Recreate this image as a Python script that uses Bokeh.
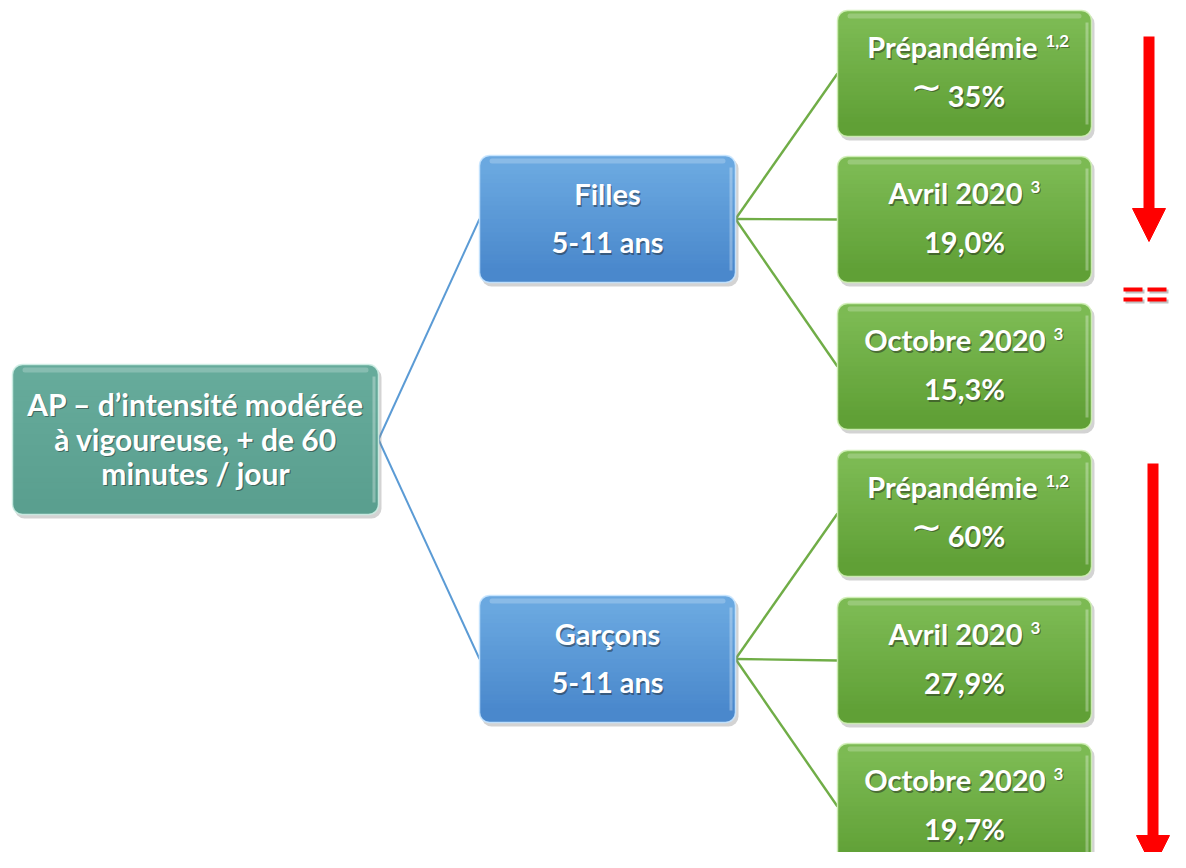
from bokeh.plotting import figure
from bokeh.models import Range1d, ColumnDataSource, Arrow, NormalHead
from bokeh.core.properties import value
from bokeh.embed import file_html
from bokeh.resources import INLINE

# ---------------- data ----------------
root_lines = ["AP – d’intensité modérée", "à vigoureuse, + de 60", "minutes / jour"]
groups = ["Filles", "Garçons"]
age_band = "5-11 ans"
periods = ["Prépandémie", "Avril 2020", "Octobre 2020"]
period_refs = ["1,2", "3", "3"]
approx_flags = [True, False, False]
filles_values = ["35%", "19,0%", "15,3%"]
garcons_values = ["60%", "27,9%", "19,7%"]
group_values = [filles_values, garcons_values]

# ---------------- layout ----------------
W, H = 1170, 852
FONT = "Lato"
p = figure(width=W, height=H, x_range=Range1d(0, W), y_range=Range1d(H, 0),
           output_backend="svg", toolbar_location=None,
           x_axis_location=None, y_axis_location=None, min_border=0,
           outline_line_color=None)
p.grid.visible = False
p.background_fill_color = "white"
p.border_fill_color = "white"


def hex2rgb(h):
    h = h.lstrip("#")
    return tuple(int(h[i:i + 2], 16) for i in (0, 2, 4))


def rgb2hex(c):
    return "#%02x%02x%02x" % tuple(max(0, min(255, int(round(v)))) for v in c)


def draw_box(l, r, t, b, top_col, bot_col, edge_col, R=10):
    # shadow
    p.quad(left=[l + 2], right=[r + 3], top=[t + 3], bottom=[b + 4],
           fill_color="#808080", fill_alpha=0.35, line_color=None, border_radius=R)
    # base in top colour
    p.quad(left=[l], right=[r], top=[t], bottom=[b], fill_color=top_col,
           line_color=None, border_radius=R)
    # bottom cap in bottom colour
    p.quad(left=[l], right=[r], top=[b - 2 * R], bottom=[b], fill_color=bot_col,
           line_color=None, border_radius=R)
    # gradient strips
    n = 24
    c0, c1 = hex2rgb(top_col), hex2rgb(bot_col)
    y0, y1 = t + R, b - R
    ls, rs, ts, bs, cs = [], [], [], [], []
    for i in range(n):
        f = i / (n - 1)
        ya = y0 + (y1 - y0) * i / n
        yb = y0 + (y1 - y0) * (i + 1) / n + 0.6
        ls.append(l); rs.append(r); ts.append(ya); bs.append(yb)
        cs.append(rgb2hex([c0[k] + (c1[k] - c0[k]) * f for k in range(3)]))
    p.quad(left=ls, right=rs, top=ts, bottom=bs, fill_color=cs, line_color=None)
    # glossy edge
    p.quad(left=[l], right=[r], top=[t], bottom=[b], fill_color=None,
           line_color=edge_col, line_width=1.5, line_alpha=0.9, border_radius=R)
    # top highlight
    p.quad(left=[l + 10], right=[r - 10], top=[t + 3], bottom=[t + 8],
           fill_color="white", fill_alpha=0.22, line_color=None, border_radius=3)
    # right highlight
    p.quad(left=[r - 6], right=[r - 3], top=[t + 12], bottom=[b - 12],
           fill_color="white", fill_alpha=0.30, line_color=None)


def shadow_text(xs, ys, texts, size, align="center", baseline="alphabetic",
                font=FONT, style="bold", color="white"):
    src = ColumnDataSource(dict(x=[x + 1.2 for x in xs], y=[y + 1.6 for y in ys], t=texts))
    p.text(x="x", y="y", text="t", source=src, text_color="#1a1a1a", text_alpha=0.45,
           text_font=value(font), text_font_style=style, text_font_size=size,
           text_align=align, text_baseline=baseline)
    src2 = ColumnDataSource(dict(x=xs, y=ys, t=texts))
    p.text(x="x", y="y", text="t", source=src2, text_color=color,
           text_font=value(font), text_font_style=style, text_font_size=size,
           text_align=align, text_baseline=baseline)


# positions
root_box = (12, 378, 364, 514)
grp_l, grp_r = 479, 735
grp_tops = [155, 595]
grp_h = 127
leaf_l, leaf_r = 837, 1091
leaf_h = 126
leaf_tops = [[10, 156, 303], [450, 597, 743]]

BLUE = "#5b9bd5"
GREEN = "#70ad47"

# connectors
rx = root_box[1]
ry = (root_box[2] + root_box[3]) / 2
for gi in range(len(groups)):
    gy = grp_tops[gi] + grp_h / 2
    p.line([rx, grp_l], [ry, gy], line_color=BLUE, line_width=2)
    for li in range(len(periods)):
        ly = leaf_tops[gi][li] + leaf_h / 2
        p.line([grp_r, leaf_l], [gy, ly], line_color=GREEN, line_width=2.4)

# root box
l, r, t, b = root_box
draw_box(l, r, t, b, "#66ab9b", "#5a9f8f", "#cfeee6")
shadow_text([(l + r) / 2] * 3, [403, 438, 472], root_lines, "30px")

# group boxes
for gi, g in enumerate(groups):
    t = grp_tops[gi]
    draw_box(grp_l, grp_r, t, t + grp_h, "#6aa8e0", "#4a88cc", "#c8e6ff")
    xc = (grp_l + grp_r) / 2
    shadow_text([xc, xc], [t + 38, t + 86], [g, age_band], "29px")

# leaf boxes
word_right = [1037, 1022, 1045]
for gi in range(len(groups)):
    for li, per in enumerate(periods):
        t = leaf_tops[gi][li]
        draw_box(leaf_l, leaf_r, t, t + leaf_h, "#7cba53", "#60a036", "#d2f0b8")
        xc = (leaf_l + leaf_r) / 2
        xr = word_right[li]
        shadow_text([xr], [t + 36], [per], "29px", align="right")
        shadow_text([xr + 8], [t + 30], [period_refs[li]], "17px", align="left")
        val = group_values[gi][li]
        if approx_flags[li]:
            shadow_text([xc + 12], [t + 85], [val], "29px")
            shadow_text([926], [t + 76], ["∼"], "38px", font="DejaVu Sans",
                        style="normal", baseline="middle")
        else:
            shadow_text([xc], [t + 85], [val], "29px")

# red arrows
arrows = [(1148.5, 36, 241), (1152.5, 463, 868)]
for ax, ys, ye in arrows:
    p.add_layout(Arrow(end=NormalHead(size=33, fill_color="red", line_color="red"),
                       x_start=ax, y_start=ys, x_end=ax, y_end=ye,
                       line_color="red", line_width=11))

# "===" sign
for yy in [289, 299]:
    p.line([1125, 1190], [yy + 2, yy + 2], line_color="#999999", line_alpha=0.6,
           line_width=4, line_dash="19 5")
    p.line([1123, 1188], [yy, yy], line_color="red", line_width=4, line_dash="19 5")

open("out.html", "w").write(file_html(p, INLINE))
